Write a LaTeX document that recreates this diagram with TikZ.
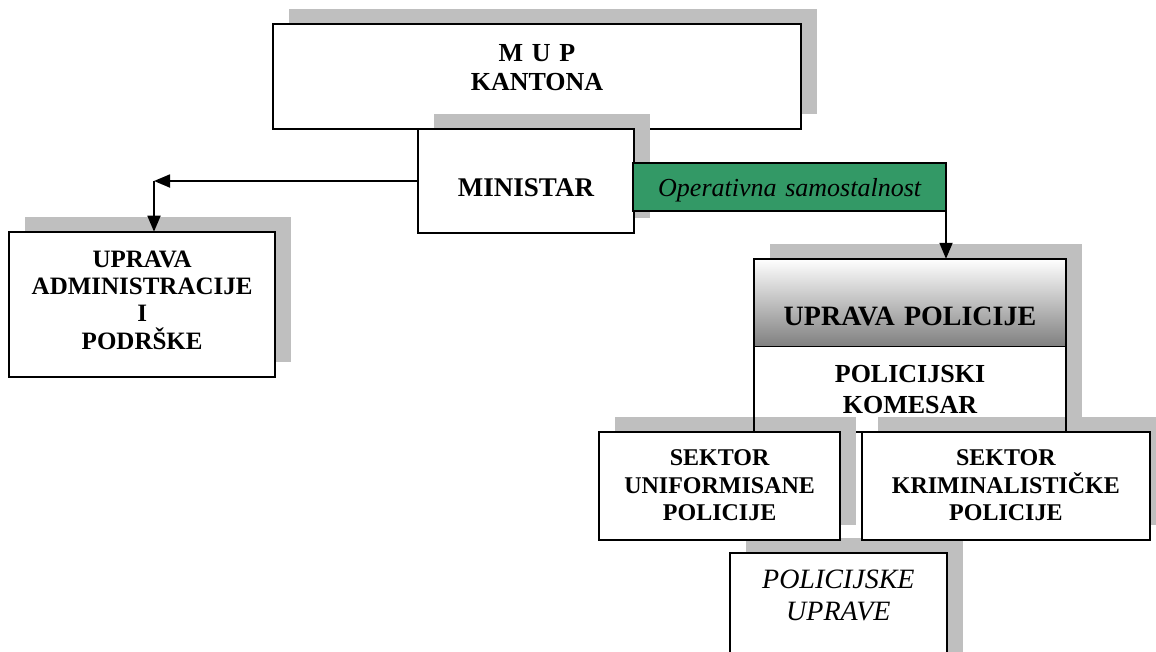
\documentclass[tikz,border=0pt]{standalone}
\usepackage{fontspec}
\setmainfont{Liberation Serif}
\usetikzlibrary{positioning,shadows,arrows.meta}
\definecolor{seagreen}{RGB}{51,153,102}
\definecolor{shadowgray}{RGB}{191,191,191}
\begin{document}
\begin{tikzpicture}[x=1pt, y=-1pt, line width=1.8pt,
  >={Triangle[length=16pt,width=13pt]},
  plainbox/.style = {shape=rectangle, draw, fill=white,
    inner sep=0pt, outer sep=0pt,
    align=center, anchor=north west,
    font=\fontsize{26}{29}\selectfont\bfseries},
  orgbox/.style = {plainbox,
    drop shadow={shadow xshift=16pt, shadow yshift=15pt,
      fill=shadowgray, opacity=1}},
  sektor/.style = {orgbox, font=\fontsize{24}{27.5}\selectfont\bfseries,
    text height=33.4pt, text depth=74.3pt}]
  \useasboundingbox (0,0) rectangle (1156,651);

  \node[orgbox, text width=528pt, text height=37.4pt, text depth=67pt]
    (mup) at (273,24.3) {M U P\\KANTONA};
  \node[orgbox, font=\fontsize{27}{29}\selectfont\bfseries,
    text width=216.6pt, text height=67.4pt, text depth=36pt]
    (min) at (417.7,129.3) {MINISTAR};
  \node[plainbox, fill=seagreen, font=\fontsize{26}{29}\selectfont\itshape,
    text width=312.7pt, text height=34pt, text depth=14.3pt]
    (oper) at (633.3,162.7) {Operativna samostalnost};
  \node[orgbox, font=\fontsize{25}{27.3}\selectfont\bfseries,
    text width=265.7pt, text height=35.6pt, text depth=109.7pt]
    (admin) at (9.3,231.7) {UPRAVA\\ADMINISTRACIJE\\I\\PODRŠKE};

  % uprava policije: two parts, lower one first
  \node[orgbox, font=\fontsize{26}{30.6}\selectfont\bfseries,
    text width=312pt, text height=36.7pt, text depth=49.3pt]
    (kom) at (754,346) {POLICIJSKI\\KOMESAR};
  \node[orgbox, top color=white, middle color=black!10, bottom color=black!50,
    font=\fontsize{28}{30}\selectfont\bfseries,
    text width=312pt, text height=66.7pt, text depth=21pt]
    (pol) [above=-0.5pt of kom] {UPRAVA POLICIJE};

  \node[orgbox, font=\fontsize{28}{31.7}\selectfont\itshape,
    text width=216.7pt, text height=35.6pt, text depth=102.3pt]
    (uprave) at (730,552.7) {POLICIJSKE\\UPRAVE};
  \node[sektor, text width=240.7pt]
    (sekU) at (599.3,432.3) {SEKTOR\\UNIFORMISANE\\POLICIJE};
  \node[sektor, text width=288.3pt]
    (sekK) at (861.7,432.3) {SEKTOR\\KRIMINALISTIČKE\\POLICIJE};

  % connectors
  \coordinate (turn) at (min.west -| 154,0);
  \draw[->] (min.west) -- (turn);
  \draw[->] (turn) -- (turn |- admin.north);
  \draw[->] (oper.south east) -- (oper.south east |- pol.north);
  \draw (kom.west) -- (kom.south west) (kom.east) -- (kom.south east);
\end{tikzpicture}
\end{document}
